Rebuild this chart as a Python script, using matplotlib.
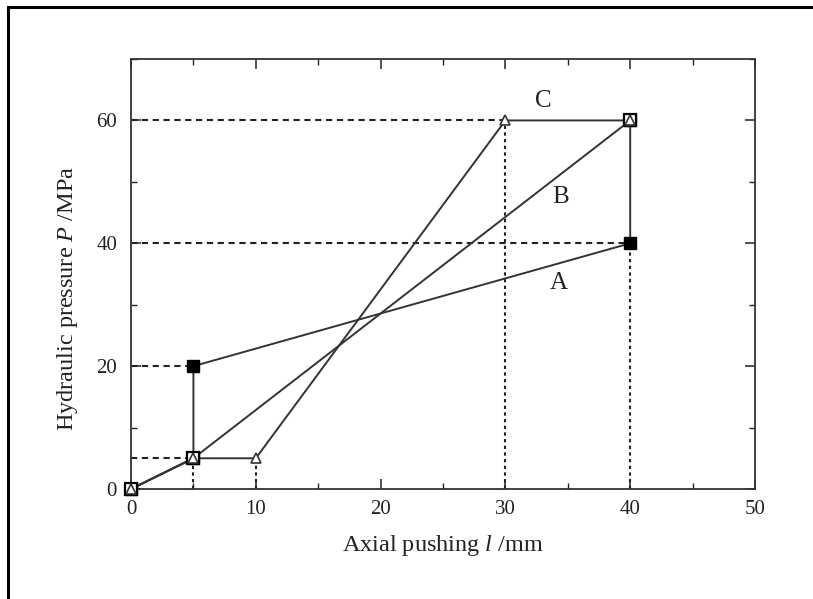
import matplotlib
matplotlib.use("Agg")
import matplotlib.pyplot as plt
from matplotlib.lines import Line2D

plt.rcParams['font.family'] = ['Liberation Serif', 'DejaVu Serif']
plt.rcParams['mathtext.fontset'] = 'custom'
plt.rcParams['mathtext.it'] = 'Liberation Serif:italic'
plt.rcParams['mathtext.rm'] = 'Liberation Serif'

# Data: axial pushing (mm) vs hydraulic pressure (MPa)
a_x = [0, 5, 5, 40, 40]
a_y = [0, 5, 20, 40, 60]
b_x = [0, 5, 40]
b_y = [0, 5, 60]
c_x = [0, 5, 10, 30, 40]
c_y = [0, 5, 5, 60, 60]

# Reference guide lines
h_guides_y = [60, 40, 20, 5]
h_guides_xend = [30, 40, 5, 5]
v_guides_x = [5, 10, 30, 40]
v_guides_yend = [5, 5, 60, 40]

curve_labels = ['A', 'B', 'C']
label_x = [34.3, 34.4, 33.0]
label_y = [33.5, 47.5, 63.2]

xticks = [0, 10, 20, 30, 40, 50]
yticks = [0, 20, 40, 60]

fig = plt.figure(figsize=(8.13, 5.99), dpi=100)
ax = fig.add_axes([131/813, 1 - 489/599, (755-131)/813, (489-59)/599])

line_col = '#333333'
for y, xe in zip(h_guides_y, h_guides_xend):
    ax.plot([0, xe], [y, y], color='#222222', lw=1.5, ls=(0, (3, 2.2)), zorder=1)
for x, ye in zip(v_guides_x, v_guides_yend):
    ax.plot([x, x], [0, ye], color='#222222', lw=1.5, ls=(0, (1.6, 1.6)), zorder=1)

ax.plot(a_x, a_y, color=line_col, lw=1.4, zorder=2)
ax.plot(b_x, b_y, color=line_col, lw=1.4, zorder=2)
ax.plot(c_x, c_y, color=line_col, lw=1.4, zorder=2)

ax.plot(a_x, a_y, ls='none', marker='s', ms=8.5, mfc='black', mec='black', zorder=3, clip_on=False)
ax.plot(b_x, b_y, ls='none', marker='s', ms=8.5, mfc='white', mec='black', mew=1.6, zorder=4, clip_on=False)
ax.plot(c_x, c_y, ls='none', marker='^', ms=7.5, mfc='white', mec='#333333', mew=1.2, zorder=5, clip_on=False)

for t, x, y in zip(curve_labels, label_x, label_y):
    ax.text(x, y, t, fontsize=18, ha='center', va='center', color='#222222')

ax.set_xlim(0, 50)
ax.set_ylim(0, 70)
ax.set_xticks(xticks)
ax.set_yticks(yticks)
ax.set_xticks([5, 15, 25, 35, 45], minor=True)
ax.set_yticks([10, 30, 50, 70], minor=True)
ax.tick_params(which='both', direction='in', top=True, right=True,
               labelsize=15, colors='#222222')
ax.tick_params(axis='x', which='major', pad=8)
ax.tick_params(axis='y', which='major', pad=10)
ax.tick_params(which='major', length=7, width=1.1)
ax.tick_params(which='minor', length=4, width=1.0)
for s in ax.spines.values():
    s.set_linewidth(1.3)
    s.set_color('#333333')

ax.set_xlabel('Axial pushing $\\mathit{l}$ /mm', fontsize=17.5, color='#222222', labelpad=10)
ax.set_ylabel('Hydraulic pressure $\\mathit{P}$ /MPa', fontsize=17.5, color='#222222')
ax.yaxis.set_label_coords(-0.082, 0.444)

# Outer frame (left and top edges visible)
fig.add_artist(Line2D([8/813, 8/813], [0, 1 - 7/599], transform=fig.transFigure, color='black', lw=2.2))
fig.add_artist(Line2D([8/813, 1], [1 - 7/599, 1 - 7/599], transform=fig.transFigure, color='black', lw=2.2))

fig.savefig('out.png', dpi=100)
